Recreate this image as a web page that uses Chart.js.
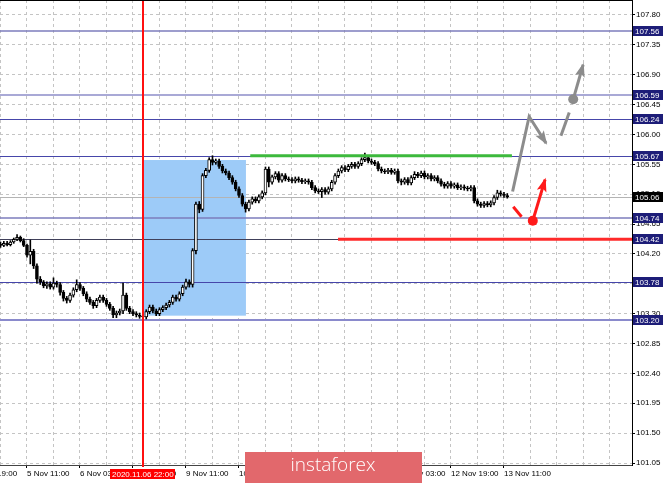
<!DOCTYPE html>
<html>
<head>
<meta charset="utf-8">
<script src="https://cdn.jsdelivr.net/npm/chart.js@4.4.0/dist/chart.umd.min.js"></script>
<style>
  html, body { margin: 0; padding: 0; background: #fff; }
  canvas { display: block; }
</style>
</head>
<body>
<canvas id="chart" width="665" height="483"></canvas>
<script>
// H1 candles, x = trading hours counted from 5 Nov 03:00
const opens = [
  104.35,104.33,104.36,104.34,104.38,104.42,104.45,104.40,104.33,104.18,
  104.24,104.02,103.82,103.78,103.72,103.75,103.70,103.76,103.74,103.62,
  103.53,103.50,103.58,103.66,103.74,103.68,103.60,103.52,103.47,103.42,
  103.50,103.55,103.50,103.44,103.38,103.28,103.31,103.34,103.58,103.38,
  103.33,103.30,103.28,103.26,103.25,103.33,103.40,103.34,103.30,103.36,
  103.39,103.43,103.47,103.55,103.52,103.60,103.70,103.78,103.74,104.25,
  104.95,104.87,105.38,105.46,105.62,105.58,105.60,105.52,105.45,105.42,
  105.35,105.28,105.18,105.08,104.95,104.88,104.98,105.03,105.00,105.06,
  105.12,105.48,105.28,105.36,105.41,105.31,105.38,105.33,105.32,105.30,
  105.33,105.31,105.29,105.30,105.28,105.20,105.15,105.14,105.17,105.13,
  105.18,105.28,105.38,105.45,105.50,105.47,105.52,105.55,105.52,105.56,
  105.62,105.65,105.60,105.58,105.56,105.48,105.45,105.44,105.46,105.43,
  105.45,105.30,105.28,105.32,105.27,105.35,105.40,105.38,105.42,105.36,
  105.38,105.33,105.35,105.30,105.25,105.22,105.26,105.22,105.24,105.20,
  105.21,105.19,105.18,105.20,105.00,104.95,104.93,104.96,104.94,104.97,
  105.05,105.12,105.10,105.08
];
const highs = [
  104.38,104.39,104.39,104.40,104.44,104.49,104.47,104.43,104.35,104.41,
  104.27,104.05,103.86,103.80,103.78,103.78,103.84,103.79,103.77,103.65,
  103.56,103.61,103.69,103.81,103.77,103.71,103.63,103.55,103.50,103.53,
  103.58,103.58,103.53,103.47,103.41,103.34,103.37,103.76,103.61,103.41,
  103.36,103.33,103.31,103.29,103.36,103.43,103.43,103.37,103.39,103.42,
  103.46,103.50,103.58,103.58,103.63,103.73,103.82,103.81,104.28,104.98,
  104.99,105.41,105.49,105.65,105.68,105.63,105.63,105.55,105.48,105.45,
  105.38,105.31,105.21,105.11,104.98,105.01,105.06,105.06,105.09,105.15,
  105.51,105.51,105.39,105.44,105.44,105.41,105.41,105.36,105.35,105.36,
  105.36,105.34,105.33,105.33,105.31,105.23,105.18,105.20,105.20,105.21,
  105.31,105.41,105.48,105.53,105.53,105.55,105.58,105.58,105.59,105.65,
  105.72,105.68,105.63,105.61,105.59,105.51,105.48,105.49,105.49,105.48,
  105.48,105.33,105.35,105.35,105.38,105.44,105.43,105.45,105.45,105.41,
  105.41,105.38,105.38,105.33,105.28,105.29,105.29,105.27,105.27,105.24,
  105.24,105.22,105.23,105.23,105.03,104.98,104.99,104.99,105.00,105.08,
  105.16,105.15,105.13,105.11
];
const lows = [
  104.30,104.31,104.32,104.32,104.36,104.40,104.38,104.31,104.15,104.05,
  103.98,103.76,103.74,103.69,103.68,103.67,103.67,103.70,103.58,103.49,
  103.46,103.47,103.55,103.63,103.65,103.57,103.48,103.44,103.38,103.39,
  103.47,103.47,103.41,103.35,103.24,103.24,103.28,103.30,103.35,103.30,
  103.27,103.25,103.23,103.21,103.22,103.30,103.31,103.27,103.27,103.33,
  103.36,103.40,103.44,103.49,103.49,103.57,103.67,103.70,103.70,104.20,
  104.82,104.84,105.35,105.43,105.54,105.55,105.49,105.42,105.39,105.32,
  105.25,105.15,105.05,104.92,104.83,104.85,104.95,104.97,104.97,105.03,
  105.09,105.21,105.25,105.33,105.28,105.28,105.30,105.29,105.27,105.27,
  105.28,105.26,105.26,105.25,105.17,105.12,105.11,105.05,105.10,105.10,
  105.15,105.25,105.35,105.42,105.44,105.44,105.49,105.49,105.49,105.53,
  105.59,105.57,105.55,105.53,105.45,105.42,105.41,105.41,105.40,105.40,
  105.27,105.24,105.25,105.24,105.24,105.32,105.35,105.35,105.33,105.33,
  105.30,105.30,105.27,105.22,105.19,105.19,105.19,105.19,105.17,105.17,
  105.16,105.15,105.15,104.97,104.92,104.90,104.90,104.91,104.91,104.94,
  105.02,105.07,105.05,105.04
];
const closes = [
  104.33,104.36,104.34,104.38,104.42,104.45,104.40,104.33,104.18,104.24,
  104.02,103.82,103.78,103.72,103.75,103.70,103.76,103.74,103.62,103.53,
  103.50,103.58,103.66,103.74,103.68,103.60,103.52,103.47,103.42,103.50,
  103.55,103.50,103.44,103.38,103.28,103.31,103.34,103.58,103.38,103.33,
  103.30,103.28,103.26,103.25,103.33,103.40,103.34,103.30,103.36,103.39,
  103.43,103.47,103.55,103.52,103.60,103.70,103.78,103.74,104.25,104.95,
  104.87,105.38,105.46,105.62,105.58,105.60,105.52,105.45,105.42,105.35,
  105.28,105.18,105.08,104.95,104.88,104.98,105.03,105.00,105.06,105.12,
  105.48,105.28,105.36,105.41,105.31,105.38,105.33,105.32,105.30,105.33,
  105.31,105.29,105.30,105.28,105.20,105.15,105.14,105.17,105.13,105.18,
  105.28,105.38,105.45,105.50,105.47,105.52,105.55,105.52,105.56,105.62,
  105.65,105.60,105.58,105.56,105.48,105.45,105.44,105.46,105.43,105.45,
  105.30,105.28,105.32,105.27,105.35,105.40,105.38,105.42,105.36,105.38,
  105.33,105.35,105.30,105.25,105.22,105.26,105.22,105.24,105.20,105.21,
  105.19,105.18,105.20,105.00,104.95,104.93,104.96,104.94,104.97,105.05,
  105.12,105.10,105.08,105.06
];

// axis ticks
const priceTicks = [101.05, 101.50, 101.95, 102.40, 102.85, 103.30, 103.75, 104.20,
                    104.65, 105.10, 105.55, 106.00, 106.45, 106.90, 107.35, 107.80];
const timeTicks = [-8, 8, 24, 40, 56, 72, 88, 104, 120, 136, 152];
const timeLabels = ['4 Nov 19:00', '5 Nov 11:00', '6 Nov 03:00', '6 Nov 19:00', '9 Nov 11:00',
                    '10 Nov 03:00', '10 Nov 19:00', '11 Nov 11:00', '12 Nov 03:00',
                    '12 Nov 19:00', '13 Nov 11:00'];

// horizontal levels on the right scale
const levels = [107.56, 106.59, 106.24, 105.67, 105.06, 104.74, 104.42, 103.78, 103.20];
const lastPrice = 105.06;

// marked zone and vertical marker
const zoneHours = [43, 74.1];
const zonePrices = [103.27, 105.615];
const markerHour = 43;
const markerLabel = '2020.11.06 22:00';

// drawn lines and forecast arrows  [hour, price]
const greenLevel = [[75.4, 105.68], [154.4, 105.68]];
const redLevel = [[101.9, 104.42], [190.65, 104.42]];
const bullPath = [[154.6, 105.14], [159.6, 106.27], [164.7, 105.87]];
const bullPath2 = [[169.2, 105.98], [171.7, 106.33]];
const bullPath3 = [[172.9, 106.53], [175.9, 107.05]];
const bearPath = [[154.8, 104.91], [157.3, 104.76]];
const bearPath2 = [[160.7, 104.70], [164.4, 105.32]];

const levelStyle = {
  107.56: ['#7c7cbc', 1.5], 106.59: ['#8c8cc8', 1.5], 106.24: ['#4646aa', 1],
  105.67: ['#4646aa', 1], 105.06: ['#b4b4b4', 1], 104.74: ['#7c7cbc', 1.5],
  104.42: ['#40405a', 1], 103.78: ['#4646aa', 1], 103.20: ['#8a8acc', 2]
};

const pts = arr => arr.map(([x, y]) => ({ x, y }));
const isBull = i => closes[i] >= opens[i];

function lineSet(data, color, extra) {
  return Object.assign({
    type: 'line', data: pts(data), borderColor: color, backgroundColor: color,
    borderWidth: 3, pointRadius: 0, tension: 0, order: 1, borderCapStyle: 'butt'
  }, extra || {});
}

const overlay = {
  id: 'overlay',
  beforeDatasetsDraw(chart) {
    const { ctx, chartArea: a, scales: { x, y } } = chart;
    ctx.save();
    ctx.setLineDash([]);
    ctx.beginPath();
    ctx.rect(a.left, a.top, a.right - a.left, a.bottom - a.top);
    ctx.clip();
    const x0 = x.getPixelForValue(zoneHours[0]), x1 = x.getPixelForValue(zoneHours[1]);
    const y0 = y.getPixelForValue(zonePrices[1]), y1 = y.getPixelForValue(zonePrices[0]);
    ctx.fillStyle = '#9dcbf8';
    ctx.fillRect(x0, y0, x1 - x0, y1 - y0);
    levels.forEach(v => {
      const [c, w] = levelStyle[v];
      const py = Math.round(y.getPixelForValue(v)) + (w === 1 ? 0.5 : 0);
      ctx.strokeStyle = c;
      ctx.lineWidth = w;
      ctx.beginPath();
      ctx.moveTo(a.left, py);
      ctx.lineTo(a.right, py);
      ctx.stroke();
    });
    ctx.restore();
  },
  afterDatasetsDraw(chart) {
    const { ctx, chartArea: a, scales: { x } } = chart;
    // vertical time marker
    const mx = Math.round(x.getPixelForValue(markerHour));
    ctx.save();
    ctx.fillStyle = '#ff1010';
    ctx.fillRect(mx - 1, a.top, 2, a.bottom - a.top + 2);
    ctx.restore();
    chart.data.datasets.forEach((ds, i) => {
      if (!ds.arrowHead) return;
      const els = chart.getDatasetMeta(i).data;
      const p1 = els[els.length - 2], p2 = els[els.length - 1];
      const ang = Math.atan2(p2.y - p1.y, p2.x - p1.x);
      const len = 12, half = 5;
      ctx.save();
      ctx.fillStyle = ds.borderColor;
      ctx.translate(p2.x, p2.y);
      ctx.rotate(ang);
      ctx.beginPath();
      ctx.moveTo(2, 0);
      ctx.lineTo(-len, -half);
      ctx.lineTo(-len + 3, 0);
      ctx.lineTo(-len, half);
      ctx.closePath();
      ctx.fill();
      ctx.restore();
    });
  },
  afterDraw(chart) {
    const { ctx, chartArea: a, scales: { x, y } } = chart;
    ctx.save();
    // frame top
    ctx.fillStyle = '#000';
    ctx.fillRect(0, 0, a.right + 1, 1);
    // price labels on the right scale
    ctx.font = '8px "Liberation Sans"';
    ctx.textBaseline = 'middle';
    ctx.textAlign = 'left';
    levels.forEach(v => {
      const py = Math.round(y.getPixelForValue(v));
      ctx.fillStyle = v === lastPrice ? '#000' : '#1d1d78';
      ctx.fillRect(a.right + 1, py - 5, 30, 10);
      ctx.fillStyle = '#fff';
      ctx.fillText(v.toFixed(2), a.right + 3, py + 0.5);
    });
    // marker time label
    const mx = Math.round(x.getPixelForValue(markerHour));
    ctx.fillStyle = '#ff0000';
    ctx.fillRect(mx - 33, a.bottom + 4, 65, 10);
    ctx.fillStyle = '#fff';
    ctx.fillText(markerLabel, mx - 31, a.bottom + 9.5);
    // logo
    ctx.fillStyle = '#e2686c';
    ctx.fillRect(245, 452, 177, 31);
    ctx.fillStyle = '#fff';
    ctx.font = '300 19px "Open Sans"';
    ctx.textAlign = 'center';
    ctx.fillText('instaforex', 333, 466);
    ctx.restore();
  }
};

Chart.defaults.font.family = '"Liberation Sans", Arial, sans-serif';
Chart.defaults.font.size = 8;
Chart.defaults.color = '#000';

new Chart(document.getElementById('chart'), {
  type: 'bar',
  data: {
    datasets: [
      {
        data: lows.map((l, i) => ({ x: i, y: [l, highs[i]] })),
        backgroundColor: '#000', barThickness: 1, grouped: false, order: 10
      },
      {
        data: opens.map((o, i) => ({ x: i, y: [Math.min(o, closes[i]), Math.max(o, closes[i])] })),
        backgroundColor: c => isBull(c.dataIndex) ? '#fff' : '#000',
        borderColor: '#000', borderWidth: 1, borderSkipped: false,
        barThickness: 3, grouped: false, order: 9
      },
      lineSet(greenLevel, '#3cb93c'),
      lineSet(redLevel, '#ff2a2a'),
      lineSet(bullPath, '#8c8c8c', { arrowHead: true, borderJoinStyle: 'miter' }),
      lineSet(bullPath2, '#8c8c8c'),
      lineSet(bullPath3, '#8c8c8c', { arrowHead: true, pointRadius: [5, 0], pointBorderWidth: 0 }),
      lineSet(bearPath, '#ff1a1a'),
      lineSet(bearPath2, '#ff1a1a', { arrowHead: true, pointRadius: [5, 0], pointBorderWidth: 0 })
    ]
  },
  options: {
    responsive: false,
    animation: false,
    devicePixelRatio: 1,
    layout: { padding: 0, autoPadding: false },
    plugins: { legend: { display: false }, tooltip: { enabled: false } },
    scales: {
      x: {
        type: 'linear', min: -0.15, max: 190.65, offset: false,
        grid: {
          offset: false, color: '#c4c4c4', tickLength: 3,
          tickColor: c => timeTicks.includes(c.tick && c.tick.value) ? '#000' : 'rgba(0,0,0,0)'
        },
        border: { color: '#444', dash: [3, 3] },
        afterBuildTicks: s => {
          const t = [-8];
          for (let h = 0; h <= 184; h += 8) t.push(h);
          s.ticks = t.map(value => ({ value }));
        },
        afterFit: s => { s.height = 18; s.paddingLeft = 0; s.paddingRight = 0; },
        ticks: {
          autoSkip: false, maxRotation: 0, align: 'start', padding: 1,
          callback: v => { const k = timeTicks.indexOf(v); return k >= 0 ? timeLabels[k] : ''; }
        }
      },
      y: {
        position: 'right', min: 101.02, max: 108.026,
        grid: { color: '#c4c4c4', tickLength: 3, tickColor: '#000' },
        border: { color: '#000', dash: [3, 3] },
        afterBuildTicks: s => { s.ticks = priceTicks.map(value => ({ value })); },
        afterFit: s => { s.width = 33; s.paddingTop = 0; s.paddingBottom = 0; },
        ticks: { padding: 1, callback: v => v.toFixed(2) }
      }
    }
  },
  plugins: [overlay]
});
</script>
</body>
</html>
